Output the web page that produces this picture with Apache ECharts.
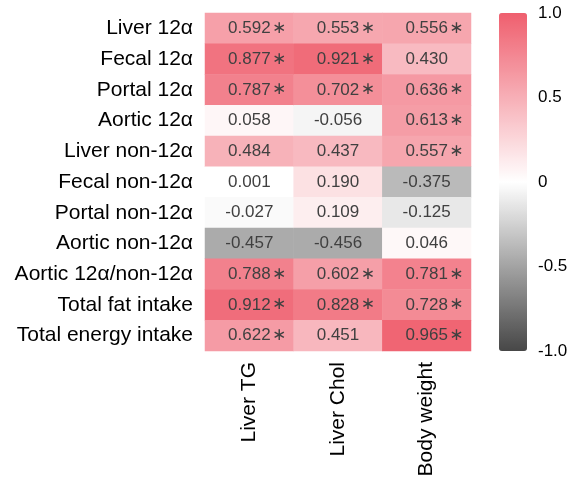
<!DOCTYPE html>
<html>
<head>
<meta charset="utf-8">
<script src="https://cdn.jsdelivr.net/npm/echarts@6/dist/echarts.min.js"></script>
<style>html,body{margin:0;padding:0;background:#fff}#c{width:577px;height:481px}</style>
</head>
<body>
<div id="c"></div>
<script>
const rowLabels = ['Liver 12α','Fecal 12α','Portal 12α','Aortic 12α','Liver non-12α','Fecal non-12α','Portal non-12α','Aortic non-12α','Aortic 12α/non-12α','Total fat intake','Total energy intake'];
const colLabels = ['Liver TG','Liver Chol','Body weight'];
const liverTG   = [0.592, 0.877, 0.787, 0.058, 0.484, 0.001, -0.027, -0.457, 0.788, 0.912, 0.622];
const liverChol = [0.553, 0.921, 0.702, -0.056, 0.437, 0.190, 0.109, -0.456, 0.602, 0.828, 0.451];
const bodyWt    = [0.556, 0.430, 0.636, 0.613, 0.557, -0.375, -0.125, 0.046, 0.781, 0.728, 0.965];
const sigTG     = [1,1,1,0,0,0,0,0,1,1,1];
const sigChol   = [1,1,1,0,0,0,0,0,1,1,0];
const sigBW     = [1,0,1,1,1,0,0,0,1,1,1];
const colorbarTicks = ['-1.0','-0.5','0','0.5','1.0'];

const cols = [liverTG, liverChol, bodyWt];
const sigs = [sigTG, sigChol, sigBW];
const data = [];
cols.forEach((arr, ci) => arr.forEach((v, ri) => data.push([ci, ri, v, sigs[ci][ri]])));

const FONT = '"Liberation Sans", Arial, sans-serif';
const chart = echarts.init(document.getElementById('c'), null, {renderer: 'canvas'});
chart.setOption({
  animation: false,
  grid: [
    {left: 205, top: 13, width: 266, height: 338},
    {left: 499, top: 13, width: 28, height: 338}
  ],
  xAxis: [
    {type: 'category', data: colLabels, gridIndex: 0, axisLine: {show: false}, axisTick: {show: false}, splitLine: {show: false},
     axisLabel: {rotate: 90, margin: 11, color: '#000', fontSize: 21, fontFamily: FONT}},
    {type: 'value', gridIndex: 1, show: false, min: 0, max: 1}
  ],
  yAxis: [
    {type: 'category', data: rowLabels, inverse: true, gridIndex: 0, axisLine: {show: false}, axisTick: {show: false}, splitLine: {show: false},
     axisLabel: {margin: 12, color: '#000', fontSize: 21, fontFamily: FONT}},
    {type: 'value', gridIndex: 1, min: -1, max: 1, interval: 0.5, position: 'right', axisLine: {show: false}, axisTick: {show: false}, splitLine: {show: false},
     axisLabel: {margin: 11, color: '#000', fontSize: 17, fontFamily: FONT,
       formatter: v => colorbarTicks[Math.round((v + 1) / 0.5)]}}
  ],
  visualMap: {
    type: 'continuous', min: -1, max: 1, calculable: false, seriesIndex: 0, dimension: 2,
    left: 499, top: 13, itemWidth: 28, itemHeight: 338, padding: 0,
    inRange: {color: ['#474747', '#ffffff', '#ef5f6e']},
    textStyle: {color: 'transparent'}
  },
  series: [{
    type: 'heatmap', xAxisIndex: 0, yAxisIndex: 0, data: data,
    itemStyle: {borderWidth: 0},
    label: {
      show: true,
      formatter: p => {
        const t = p.data[2].toFixed(3);
        return p.data[3] ? '{p|}{v|' + t + '}{s|∗}' : '{v|' + t + '}';
      },
      rich: {
        v: {fontSize: 17, color: '#404040', fontFamily: FONT},
        p: {width: 13},
        s: {width: 9, padding: [0, 0, 0, 4], fontSize: 17, color: '#404040', fontFamily: '"DejaVu Sans", sans-serif'}
      }
    }
  }]
});
</script>
</body>
</html>
